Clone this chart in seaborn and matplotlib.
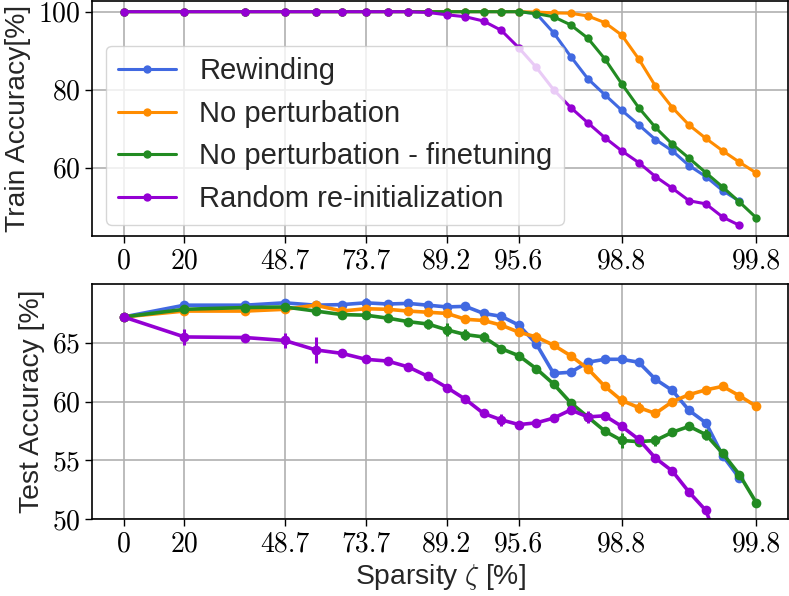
import numpy as np
import pandas as pd
import matplotlib
matplotlib.use('Agg')
import matplotlib.pyplot as plt
import seaborn as sns

# sparsity [%] after each pruning round
sparsity = [0, 20, 36, 48.8, 59.04, 67.232, 73.786, 79.028, 83.223, 86.578,
            89.263, 91.41, 93.128, 94.502, 95.602, 96.482, 97.185, 97.748,
            98.199, 98.559, 98.847, 99.078, 99.262, 99.41, 99.528, 99.622,
            99.698, 99.758, 99.807]
tick_pos = [0, 20, 48.8, 73.786, 89.263, 95.602, 98.847, 99.807]
tick_lab = ['0', '20', '48.7', '73.7', '89.2', '95.6', '98.8', '99.8']

labels = ['Rewinding', 'No perturbation', 'No perturbation - finetuning',
          'Random re-initialization']
colors = ['royalblue', 'darkorange', 'forestgreen', 'darkviolet']

# train accuracy
train_rewind = [100, 100, 100, 100, 100, 100, 100, 100, 100, 100, 100, 100, 100,
                100, 100, 99.5, 94.6, 88.5, 82.8, 78.7, 74.7, 71.0, 67.2, 64.3,
                60.5, 57.7, 54.1, 51.4]
train_noperturb = [100, 100, 100, 100, 100, 100, 100, 100, 100, 100, 100, 100,
                   100, 100, 100, 99.9, 99.7, 99.6, 98.9, 97.2, 94.0, 87.9, 80.9,
                   75.4, 70.9, 67.5, 64.3, 61.4, 58.6]
train_finetune = [100, 100, 100, 100, 100, 100, 100, 100, 100, 100, 100, 100,
                  100, 100, 100, 99.5, 98.7, 96.6, 93.2, 87.9, 81.5, 75.4, 70.3,
                  66.0, 62.4, 58.7, 55.0, 51.2, 47.1]
train_random = [100, 100, 100, 100, 100, 100, 100, 100, 100, 99.8, 99.2, 98.7,
                97.6, 95.2, 90.7, 85.7, 80.0, 75.4, 71.5, 67.7, 64.3, 61.3, 57.7,
                54.7, 51.5, 50.7, 47.3, 45.2]

# test accuracy
test_rewind = [67.2, 68.2, 68.2, 68.4, 68.2, 68.25, 68.4, 68.3, 68.35, 68.2,
               68.05, 68.1, 67.5, 67.25, 66.5, 64.9, 62.4, 62.5, 63.35, 63.6,
               63.6, 63.35, 61.9, 60.95, 59.25, 58.2, 55.4, 53.5]
test_noperturb = [67.2, 67.7, 67.7, 67.85, 68.2, 67.7, 67.9, 67.85, 67.7, 67.6,
                  67.5, 67.0, 66.9, 66.5, 65.9, 65.5, 64.8, 63.9, 62.8, 61.3,
                  60.1, 59.5, 59.0, 60.0, 60.6, 61.0, 61.3, 60.5, 59.6]
test_finetune = [67.2, 67.85, 68.0, 68.05, 67.7, 67.4, 67.35, 67.1, 66.8, 66.6,
                 66.1, 65.7, 65.5, 64.5, 63.9, 62.8, 61.5, 59.9, 58.7, 57.5,
                 56.7, 56.6, 56.7, 57.4, 57.9, 57.2, 55.6, 53.8, 51.4]
test_random = [67.2, 65.5, 65.45, 65.2, 64.4, 64.1, 63.6, 63.45, 62.95, 62.15,
               61.2, 60.2, 59.0, 58.45, 58.05, 58.2, 58.6, 59.3, 58.7, 58.8,
               57.9, 56.8, 55.2, 54.1, 52.3, 50.75, 47.0, 44.5]

err_rewind = [0, 0.2, 0.15, 0.2, 0.15, 0.15, 0.4, 0.15, 0.15, 0.2, 0.15, 0.15,
              0.35, 0.15, 0.15, 0.15, 0.15, 0.15, 0.15, 0.15, 0.15, 0.15, 0.15,
              0.15, 0.15, 0.2, 0.2, 0.3]
err_noperturb = [0, 0.15, 0.15, 0.15, 0.3, 0.15, 0.15, 0.15, 0.15, 0.15, 0.15,
                 0.15, 0.15, 0.15, 0.15, 0.45, 0.15, 0.15, 0.15, 0.15, 0.45,
                 0.5, 0.15, 0.15, 0.15, 0.15, 0.15, 0.15, 0.35]
err_finetune = [0, 0.15, 0.15, 0.15, 0.15, 0.15, 0.3, 0.2, 0.15, 0.45, 0.55,
                0.45, 0.4, 0.15, 0.15, 0.15, 0.15, 0.15, 0.15, 0.15, 0.65, 0.4,
                0.5, 0.15, 0.15, 0.5, 0.15, 0.15, 0.15]
err_random = [0, 0.7, 0.2, 0.6, 1.1, 0.15, 0.15, 0.15, 0.35, 0.15, 0.15, 0.15,
              0.15, 0.5, 0.15, 0.15, 0.15, 0.15, 0.5, 0.15, 0.15, 0.15, 0.15,
              0.15, 0.15, 0.15, 0.15, 0.15]

train = [train_rewind, train_noperturb, train_finetune, train_random]
test = [test_rewind, test_noperturb, test_finetune, test_random]
errs = [err_rewind, err_noperturb, err_finetune, err_random]

# logit-like axis; the unpruned point sits one step to the left of 20 %
LO = np.log(1 / 9)
L20 = np.log(0.25)


def fwd(s):
    s = np.asarray(s, dtype=float)
    with np.errstate(all='ignore'):
        lg = np.log(s / (100 - s))
    lin = LO + s / 20.0 * (L20 - LO)
    return np.where(s < 20, lin, lg)


def inv(y):
    y = np.asarray(y, dtype=float)
    lin = (y - LO) / (L20 - LO) * 20.0
    lg = 100.0 / (1 + np.exp(-y))
    return np.where(y < L20, lin, lg)


sns.set_style('ticks')
plt.rcParams.update({
    'font.family': 'cmr10',
    'mathtext.fontset': 'cm',
    'axes.formatter.use_mathtext': True,
    'axes.unicode_minus': False,
    'axes.edgecolor': 'black',
    'axes.linewidth': 1.2,
    'xtick.color': 'black',
    'ytick.color': 'black',
    'xtick.major.size': 5,
    'ytick.major.size': 5,
    'xtick.major.width': 1.0,
    'ytick.major.width': 1.0,
})

fig = plt.figure(figsize=(7.89, 5.96), dpi=100)
ax1 = fig.add_axes([92 / 789, 1 - 236 / 596, 696 / 789, 235 / 596])
ax2 = fig.add_axes([92 / 789, 1 - 519.3 / 596, 696 / 789, 235.3 / 596])

sans = {'family': 'Liberation Sans', 'size': 20.3}

for i in range(4):
    n = len(train[i])
    df = pd.DataFrame({'sparsity': sparsity[:n], 'acc': train[i]})
    sns.lineplot(data=df, x='sparsity', y='acc', ax=ax1, color=colors[i],
                 marker='o', markersize=6, markeredgewidth=0, linewidth=2.2,
                 label=labels[i])

for i in range(4):
    n = len(test[i])
    df = pd.DataFrame({'sparsity': sparsity[:n], 'acc': test[i],
                       'err': errs[i]})
    sns.lineplot(data=df, x='sparsity', y='acc', ax=ax2, color=colors[i],
                 marker='o', markersize=7, markeredgewidth=0, linewidth=2.6,
                 legend=False)
    ax2.errorbar(df['sparsity'], df['acc'], yerr=df['err'], fmt='none',
                 ecolor=colors[i], elinewidth=2.2, capsize=0)

for ax in (ax1, ax2):
    ax.set_xscale('function', functions=(fwd, inv))
    ax.set_xticks(tick_pos)
    ax.set_xticklabels(tick_lab)
    ax.grid(True, color='#b0b0b0', linewidth=1.2)
    ax.set_axisbelow(True)
    ax.tick_params(labelsize=20)
    ax.set_xlabel('')

ax1.set_yticks([60, 80, 100])
ax1.set_ylabel('Train Accuracy[%]', fontdict=sans, labelpad=5)

ax2.set_ylim(50, 70)
ax2.set_yticks([50, 55, 60, 65])
ax2.set_ylabel('Test Accuracy [%]', fontdict=sans, labelpad=5)
ax2.set_xlabel(r'Sparsity $\zeta$ [%]', fontdict=sans, labelpad=3)

ax1.legend(loc='upper left', bbox_to_anchor=(0.02, 0.81), borderaxespad=0,
           prop={'family': 'Liberation Sans', 'size': 21}, framealpha=0.8)

fig.savefig('out.png', dpi=100)
